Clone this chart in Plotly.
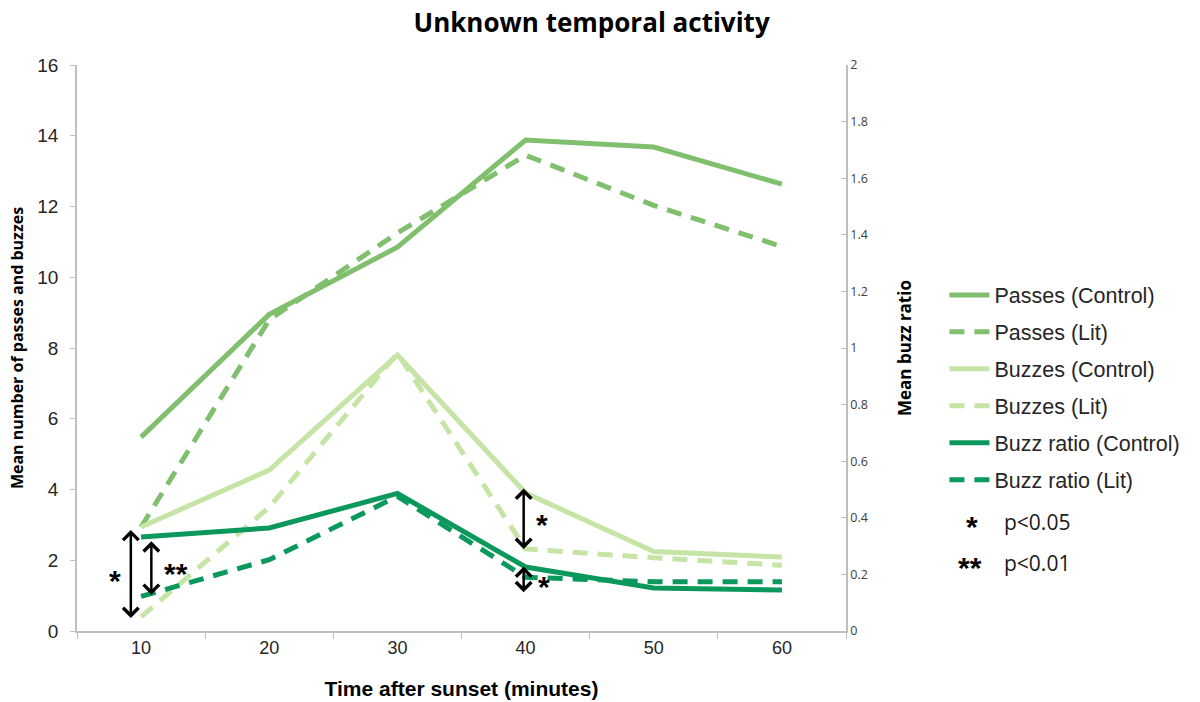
import plotly.graph_objects as go

times = ["10", "20", "30", "40", "50", "60"]
passes_control = [5.48, 8.95, 10.85, 13.88, 13.68, 12.63]
passes_lit = [2.94, 8.8, 11.25, 13.45, 12.03, 10.87]
buzzes_control = [2.94, 4.55, 7.8, 3.9, 2.25, 2.09]
buzzes_lit = [0.4, 3.5, 7.85, 2.32, 2.07, 1.86]
ratio_control = [0.332, 0.364, 0.486, 0.226, 0.152, 0.145]
ratio_lit = [0.122, 0.252, 0.476, 0.19, 0.174, 0.174]

C_PASS = "#80bf6e"
C_BUZZ = "#c6e4a5"
C_RATIO = "#0b985c"
DASH = "15px,10px"
LW = 5

fig = go.Figure()
series = [
    ("Passes (Control)", passes_control, C_PASS, "solid", "y"),
    ("Passes (Lit)", passes_lit, C_PASS, DASH, "y"),
    ("Buzzes (Control)", buzzes_control, C_BUZZ, "solid", "y"),
    ("Buzzes (Lit)", buzzes_lit, C_BUZZ, DASH, "y"),
    ("Buzz ratio (Control)", ratio_control, C_RATIO, "solid", "y2"),
    ("Buzz ratio (Lit)", ratio_lit, C_RATIO, DASH, "y2"),
]
for i, (name, vals, col, dash, ax) in enumerate(series):
    fig.add_trace(go.Scatter(
        x=times, y=vals, name=name, mode="lines", yaxis=ax,
        line=dict(color=col, width=LW, dash=dash),
        legendgroup=f"g{i}",
    ))

arrow_kw = dict(text="", showarrow=True, arrowhead=4, startarrowhead=4,
                arrowside="end+start", arrowsize=1.2, startarrowsize=1.2,
                arrowwidth=2.5, arrowcolor="black", axref="x", standoff=0,
                startstandoff=0)
ann = []
# arrows at 10 minutes
ann.append(dict(x=-0.08, y=0.37, ax=-0.08, ay=2.9, xref="x", yref="y", ayref="y", **arrow_kw))
ann.append(dict(x=0.08, y=0.128, ax=0.08, ay=0.322, xref="x", yref="y2", ayref="y2", **arrow_kw))
# arrows at 40 minutes
ann.append(dict(x=2.985, y=2.32, ax=2.985, ay=4.07, xref="x", yref="y", ayref="y", **arrow_kw))
ann.append(dict(x=2.985, y=0.137, ax=2.985, ay=0.233, xref="x", yref="y2", ayref="y2", **arrow_kw))

star_font = dict(family="Liberation Sans, Arial", size=30, color="black")
for (sx, sy, txt) in [(-0.2, 1.43, "*"), (0.27, 1.62, "**"), (3.13, 3.0, "*"), (3.14, 1.25, "*")]:
    ann.append(dict(x=sx, y=sy, xref="x", yref="y", text=f"<b>{txt}</b>", showarrow=False,
                    font=star_font, yanchor="middle"))

# significance key
ann.append(dict(x=1.174, y=0.185, xref="paper", yref="paper", text="<b>*</b>", showarrow=False,
                font=star_font, yanchor="middle"))
ann.append(dict(x=1.18, y=0.113, xref="paper", yref="paper", text="<b>**</b>", showarrow=False,
                font=star_font, yanchor="middle"))
key_font = dict(family="Open Sans, Liberation Sans, Arial", size=21, color="#1a1a1a")
ann.append(dict(x=1.203, y=0.1926, xref="paper", yref="paper", text="p<0.05", showarrow=False,
                xanchor="left", yanchor="middle", font=key_font))
ann.append(dict(x=1.203, y=0.12, xref="paper", yref="paper", text="p<0.01", showarrow=False,
                xanchor="left", yanchor="middle", font=key_font))

fig.update_layout(
    width=1200, height=702,
    margin=dict(l=77, r=354, t=65, b=71),
    paper_bgcolor="white", plot_bgcolor="white",
    title=dict(text="<b>Unknown temporal activity</b>", x=0.493, xanchor="center",
               y=0.968, yanchor="middle",
               font=dict(family="Open Sans", size=26, color="black")),
    showlegend=True,
    legend=dict(x=1.128, y=0.63, xanchor="left", yanchor="top",
                font=dict(family="Liberation Sans, Arial", size=21.5, color="#262626"),
                tracegroupgap=6, traceorder="grouped", itemwidth=40,
                bgcolor="rgba(0,0,0,0)"),
    annotations=ann,
    xaxis=dict(type="category", range=[-0.5, 5.5], tickson="boundaries", ticks="outside",
               ticklen=6, tickcolor="#bfbfbf", showline=True, linecolor="#bfbfbf",
               linewidth=1.5, showgrid=False, zeroline=False, automargin=False,
               tickfont=dict(family="Liberation Sans, Arial", size=18, color="#262626"),
               title=dict(text="<b>Time after sunset (minutes)</b>", standoff=24,
                          font=dict(family="Liberation Sans, Arial", size=21, color="black"))),
    yaxis=dict(range=[0, 16], dtick=2, ticks="outside", ticklen=5, tickcolor="#bfbfbf",
               showline=True, linecolor="#bfbfbf", linewidth=1.5, showgrid=False, zeroline=False,
               ticklabelstandoff=8, automargin=False,
               tickfont=dict(family="Liberation Sans, Arial", size=19, color="#262626"),
               title=dict(text="<b>Mean number of passes and buzzes</b>", standoff=10,
                          font=dict(family="Open Sans", size=16, color="black"))),
    yaxis2=dict(range=[0, 2], dtick=0.2, overlaying="y", side="right", ticks="inside",
                ticklen=5, tickcolor="#bfbfbf", showline=True, linecolor="#bfbfbf", linewidth=1.5,
                showgrid=False, zeroline=False, automargin=False,
                tickfont=dict(family="Open Sans", size=12.5, color="#404040"),
                title=dict(text="<b>Mean buzz ratio</b>", standoff=32,
                           font=dict(family="Open Sans", size=17, color="black"))),
)

fig.write_html("out.html")
